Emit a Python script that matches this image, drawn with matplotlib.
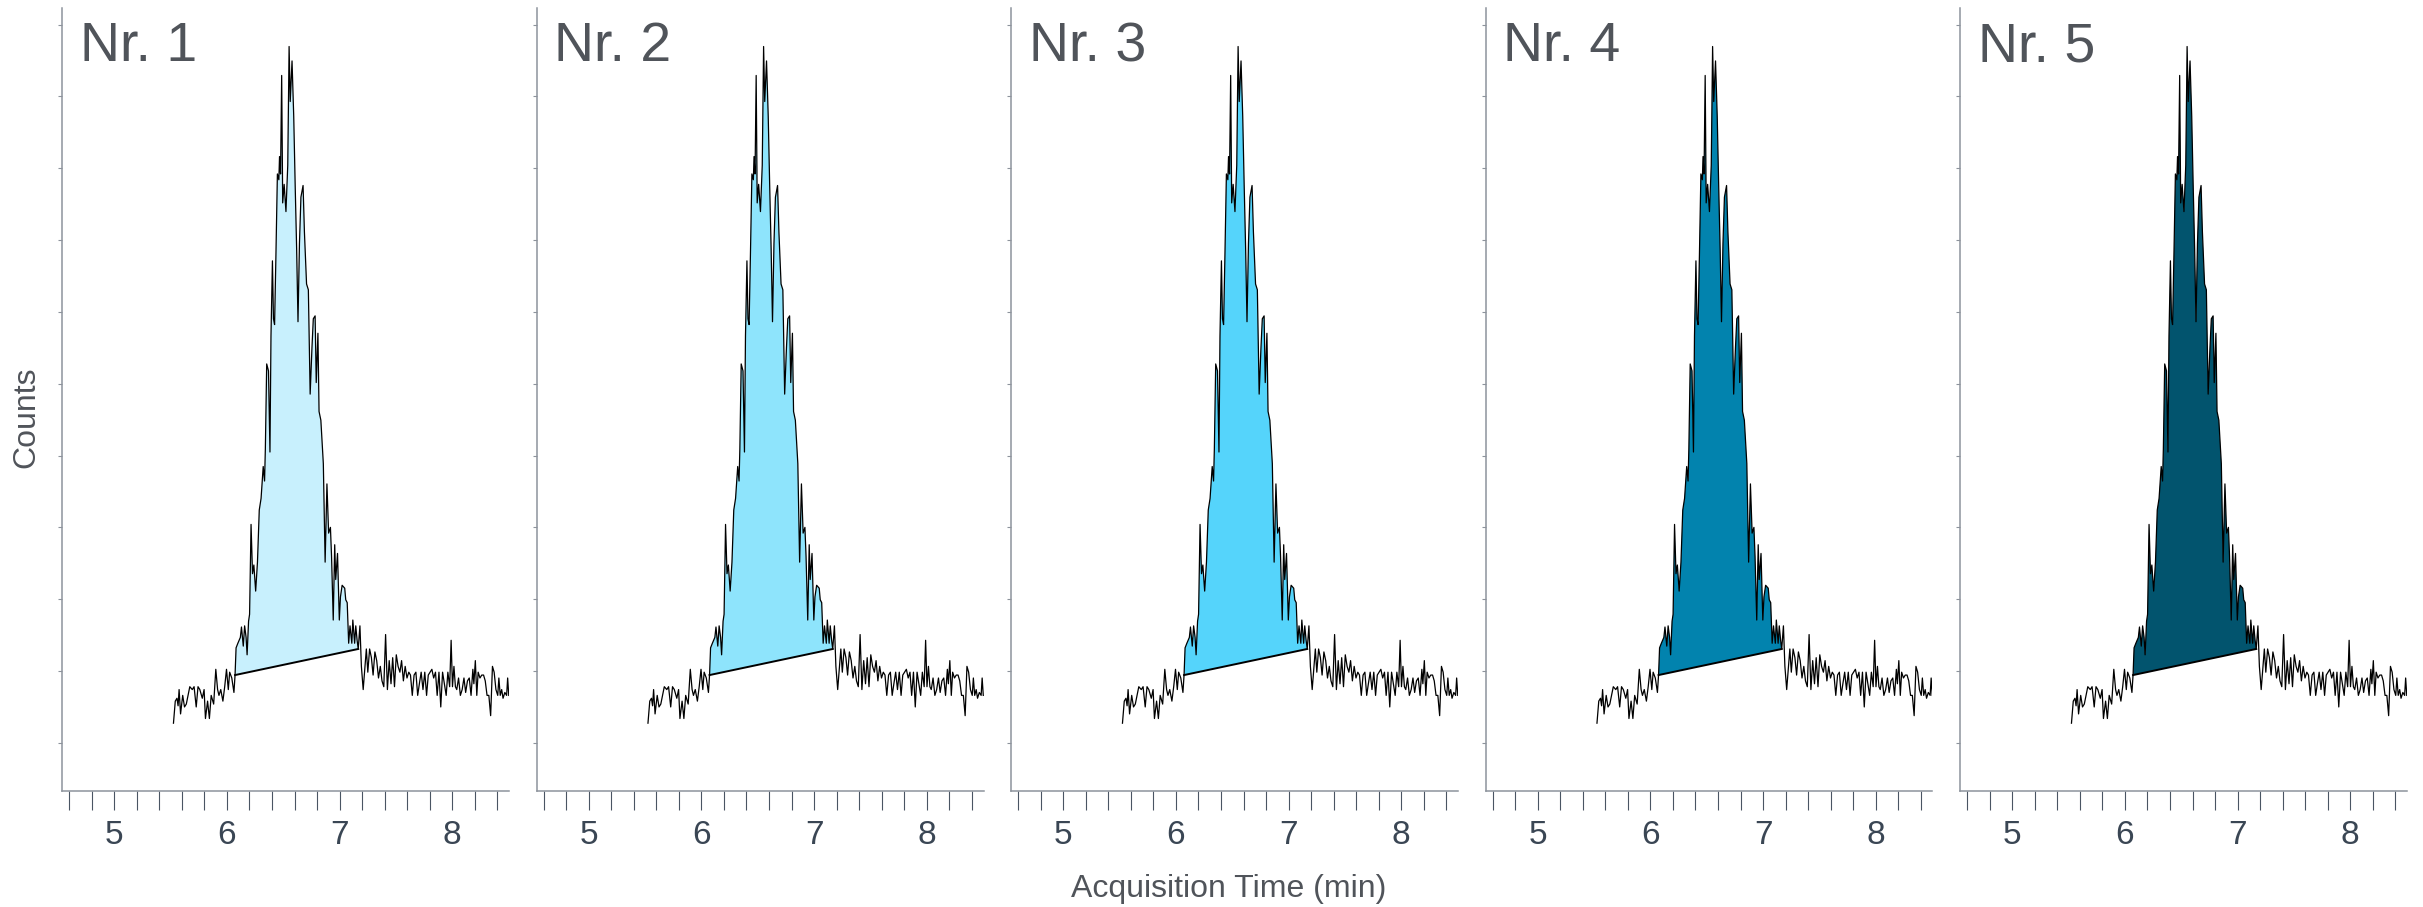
import matplotlib
matplotlib.use("Agg")
import matplotlib.pyplot as plt
from matplotlib.ticker import MultipleLocator

plt.rcParams['font.family'] = ['Liberation Sans', 'DejaVu Sans']

# chromatogram trace (min, counts), same injection shown in every panel
times = [
    5.525, 5.541, 5.556, 5.566, 5.575, 5.588, 5.607, 5.623, 5.639, 5.670,
    5.692, 5.708, 5.727, 5.743, 5.759, 5.781, 5.797, 5.809, 5.828, 5.844,
    5.860, 5.882, 5.901, 5.917, 5.929, 5.945, 5.964, 5.980, 5.996, 6.012,
    6.024, 6.043, 6.062, 6.072,
    6.081, 6.097, 6.119, 6.129, 6.145, 6.157, 6.170, 6.179, 6.192, 6.201,
    6.214, 6.227, 6.239, 6.255, 6.271, 6.287, 6.303, 6.322, 6.334, 6.341,
    6.353, 6.369, 6.382, 6.391, 6.404, 6.413, 6.423, 6.435, 6.448, 6.461,
    6.467, 6.476, 6.486, 6.495, 6.508, 6.524, 6.540, 6.552, 6.562, 6.578,
    6.593, 6.606, 6.619, 6.631, 6.644, 6.657, 6.676, 6.688, 6.707, 6.723,
    6.739, 6.755, 6.767, 6.783, 6.793, 6.808, 6.818, 6.834, 6.856, 6.872,
    6.888, 6.903, 6.919, 6.929, 6.944, 6.957, 6.966, 6.982, 6.998, 7.008,
    7.023, 7.046, 7.055, 7.068, 7.081, 7.093, 7.109, 7.118, 7.134, 7.144,
    7.156, 7.166,
    7.181, 7.194, 7.210, 7.226, 7.238, 7.251, 7.267, 7.283, 7.298, 7.314,
    7.330, 7.346, 7.362, 7.377, 7.393, 7.409, 7.425, 7.441, 7.457, 7.472,
    7.488, 7.504, 7.520, 7.536, 7.551, 7.567, 7.583, 7.599, 7.615, 7.630,
    7.646, 7.662, 7.678, 7.694, 7.709, 7.725, 7.741, 7.757, 7.773, 7.788,
    7.804, 7.820, 7.836, 7.852, 7.867, 7.883, 7.899, 7.915, 7.931, 7.947,
    7.962, 7.978, 7.991, 8.003, 8.016, 8.029, 8.041, 8.057, 8.073, 8.089,
    8.105, 8.120, 8.136, 8.152, 8.168, 8.184, 8.193, 8.206, 8.219, 8.231,
    8.247, 8.263, 8.279, 8.294, 8.310, 8.326, 8.342, 8.358, 8.373, 8.389,
    8.405, 8.415, 8.427, 8.440, 8.452, 8.468, 8.484, 8.493, 8.503,
]
counts = [
    2740, 5810, 6210, 5160, 7420, 4030, 6610, 5000, 5400, 7820,
    7420, 7820, 5000, 7820, 7420, 6210, 7420, 3390, 5810, 3390,
    6610, 5400, 10240, 7420, 6610, 7420, 5810, 7820, 10240, 7420,
    9840, 9030, 7020, 9440,
    13230, 13870, 14680, 16130, 13470, 16290, 14680, 12260, 16940, 17900,
    30410, 23550, 24760, 21130, 25160, 32420, 34030, 38470, 36450, 40890,
    52750, 51780, 40490, 56620, 67100, 59040, 58230, 67910, 79200, 78390,
    81620, 79200, 92910, 75170, 77750, 73960, 80410, 96940, 89280, 94930,
    87260, 77590, 68710, 58630, 69520, 75970, 77590, 71130, 63880, 63070,
    48550, 55000, 59040, 59440, 50160, 57020, 46130, 44920, 38870, 25160,
    36050, 29200, 30000, 25970, 17100, 27580, 22740, 26370, 17100, 20320,
    21940, 21530, 19920, 19520, 13870, 16290, 13870, 17100, 13870, 16290,
    14280, 13070,
    16290, 10650, 7420, 10650, 13070, 9840, 13070, 11860, 9440, 12660,
    11450, 9030, 10650, 8630, 7820, 15080, 7420, 11450, 8230, 11860,
    7820, 12260, 10650, 9840, 11450, 8630, 10650, 9030, 9840, 9440,
    6610, 9440, 9840, 6610, 8230, 9840, 7420, 9840, 6610, 9440,
    9840, 10240, 9030, 9840, 6610, 9840, 5000, 9840, 8230, 6610,
    9840, 7820, 14280, 7820, 10650, 7820, 7420, 9030, 6610, 7420,
    9030, 7020, 8630, 9030, 6610, 10240, 8230, 11450, 6610, 9840,
    9030, 9440, 9440, 8630, 6610, 6610, 3790, 10650, 9840, 7420,
    6610, 9030, 6610, 7420, 6210, 7020, 6610, 9030, 6610,
]

# integration limits of the peak (baseline drawn between these two points)
peak_start = 6.072
peak_end = 7.166

panel_names = ["Nr. 1", "Nr. 2", "Nr. 3", "Nr. 4", "Nr. 5"]
fill_colors = ["#c8f0fd", "#8ee4fc", "#55d4fb", "#0283ae", "#02546e"]

i0 = times.index(peak_start)
i1 = times.index(peak_end)

fig = plt.figure(figsize=(24.23, 9.07), dpi=100)

spine_col = "#8d939c"
tick_col = "#4a5563"
text_col = "#50545a"

for k in range(5):
    left = (62 + 474.5 * k) / 2423
    ax = fig.add_axes([left, 116 / 907, 447 / 2423, 783 / 907])

    ax.fill(times[i0:i1 + 1], counts[i0:i1 + 1], color=fill_colors[k], lw=0)
    ax.plot(times, counts, color="black", lw=0.9)
    ax.plot([peak_start, peak_end], [counts[i0], counts[i1]], color="black", lw=1.4)

    ax.set_xlim(4.535, 8.505)
    ax.set_ylim(-6700, 102300)

    for s in ["top", "right"]:
        ax.spines[s].set_visible(False)
    for s in ["left", "bottom"]:
        ax.spines[s].set_color(spine_col)
        ax.spines[s].set_linewidth(1.1)

    ax.xaxis.set_major_locator(MultipleLocator(1))
    ax.xaxis.set_minor_locator(MultipleLocator(0.2))
    ax.tick_params(axis="x", which="both", direction="out", length=14,
                   width=0.8, color=tick_col)
    ax.tick_params(axis="x", which="major", labelsize=24, labelcolor="#3a4654", pad=7)

    ax.yaxis.set_major_locator(MultipleLocator(10000))
    ax.tick_params(axis="y", direction="out", length=3, width=0.8,
                   color=spine_col, labelleft=False)

    ax.text(0.04, 0.9317, panel_names[k], transform=ax.transAxes,
            fontsize=40, color=text_col, ha="left", va="baseline")

fig.text(26 / 2423, 1 - 417 / 907, "Counts", rotation=90, fontsize=23,
         color=text_col, ha="center", va="center")
fig.text(1229 / 2423, 1 - 889 / 907, "Acquisition Time (min)", fontsize=23,
         color=text_col, ha="center", va="center")

plt.savefig("out.png", dpi=100)
